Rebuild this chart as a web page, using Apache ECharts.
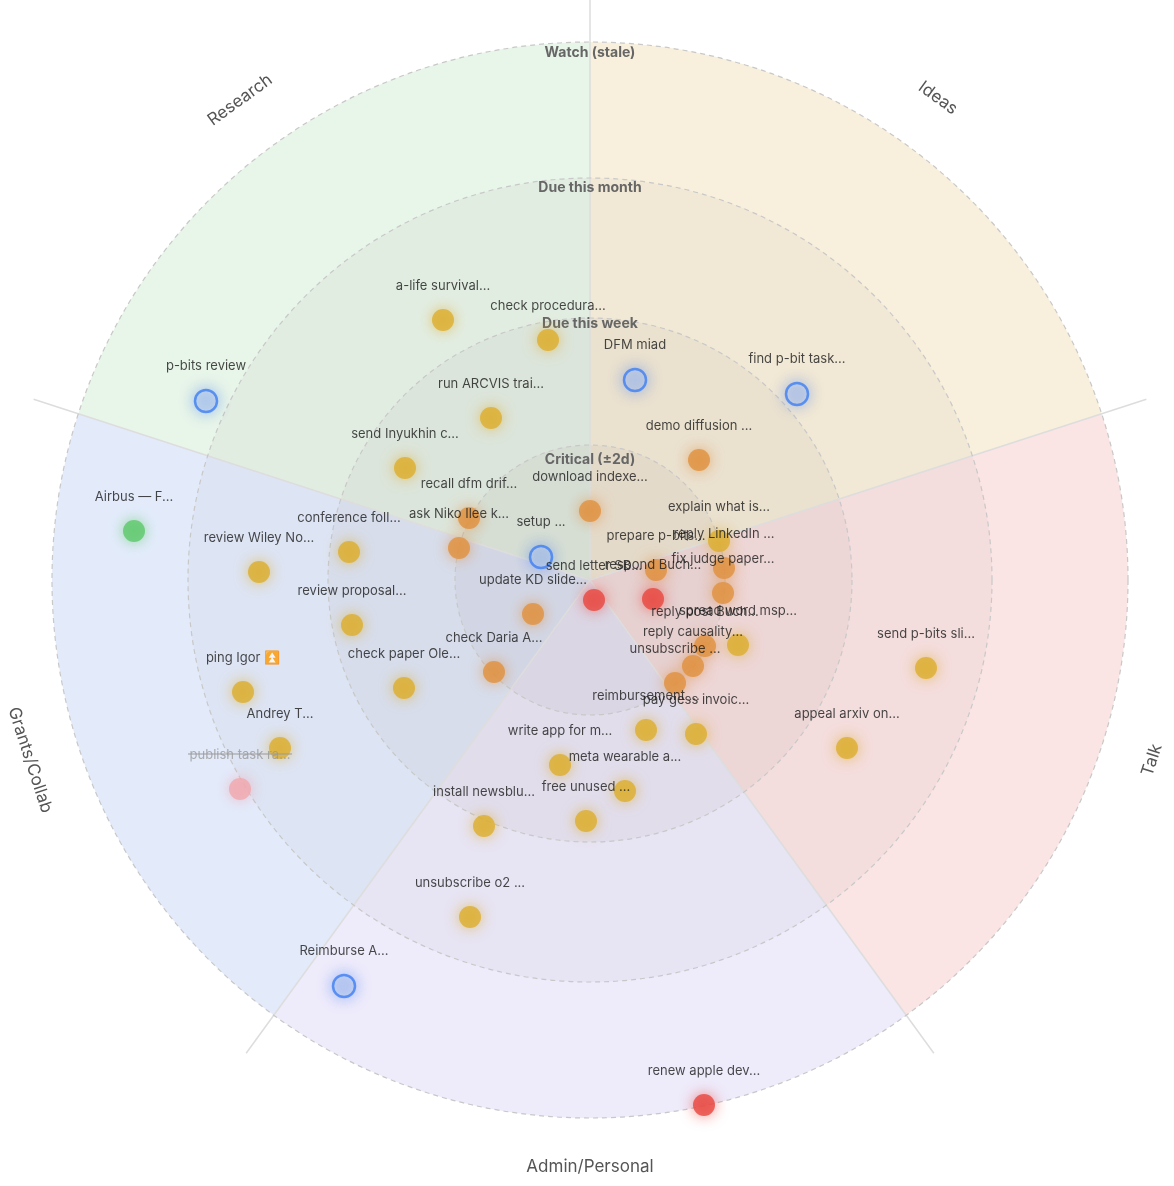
<!DOCTYPE html>
<html><head><meta charset="utf-8">
<script src="https://cdn.jsdelivr.net/npm/echarts@6/dist/echarts.min.js"></script>
<style>html,body{margin:0;padding:0;background:#fff}#c{width:1174px;height:1186px}</style>
</head><body><div id="c"></div>
<script>
// Data: offsets from chart centre (x right, y up)
const sectors = ['Ideas','Talk','Admin/Personal','Grants/Collab','Research'];
const rings = ['Critical (±2d)','Due this week','Due this month','Watch (stale)'];
const ringRadii = [135, 262, 402, 538];

const yellowNames = ['a-life survival...','check procedura...','run ARCVIS trai...','send Inyukhin c...','explain what is...','conference foll...','review Wiley No...','review proposal...','spread word msp...','check paper Ole...','ping Igor ⏫','reimbursement ...','pay gess invoic...','Andrey T...','write app for m...','meta wearable a...','free unused ...','install newsblu...','send p-bits sli...','appeal arxiv on...','unsubscribe o2 ...'];
const yellowPts = [[-147,260],[-42,240],[-99,162],[-185,112],[129,39],[-241,28],[-331,8],[-238,-45],[148,-65],[-186,-108],[-347,-112],[56,-150],[106,-154],[-310,-168],[-30,-185],[35,-211],[-4,-241],[-106,-246],[336,-88],[257,-168],[-120,-337]];
const orangeNames = ['demo diffusion ...','recall dfm drif...','download indexe...','ask Niko Ilee k...','prepare p-bits...','reply LinkedIn ...','fix judge paper...','update KD slide...','reply post Buch...','reply causality...','unsubscribe ...','check Daria A...'];
const orangePts = [[109,120],[-121,62],[0,69],[-131,32],[66,10],[134,12],[133,-13],[-57,-34],[115,-66],[103,-86],[85,-103],[-96,-92]];
const redNames = ['send letter SB...','respond Buch...','renew apple dev...'];
const redPts = [[4,-20],[63,-19],[114,-525]];
const greenNames = ['Airbus — F...'];
const greenPts = [[-456,49]];
const blueNames = ['DFM miad','find p-bit task...','p-bits review','setup ...','Reimburse A...'];
const bluePts = [[45,200],[207,186],[-384,179],[-49,23],[-246,-406]];
const pinkNames = ['publish task ra...'];
const pinkPts = [[-350,-209]];

const sectorColors = ['#f8f0dc','#fbe4e4','#eeebfb','#e3ebfb','#e8f5e9'];

const chart = echarts.init(document.getElementById('c'));
function lab(color){return {show:true, position:'top', distance:16, formatter:'{b}', color:color, fontSize:13, fontFamily:'Inter, sans-serif'};}
function mk(names, pts, color, glow, extra) {
  return Object.assign({
    type:'scatter', symbolSize:22, z:5,
    data: pts.map((p,i)=>({value:p, name:names[i]})),
    itemStyle:{color:color, shadowBlur:14, shadowColor:glow},
    label:lab('#1a1a1a')
  }, extra||{});
}
chart.setOption({
  animation:false,
  grid:{left:0,right:0,top:0,bottom:0},
  xAxis:{type:'value',min:-590,max:584,show:false},
  yAxis:{type:'value',min:-606,max:580,show:false},
  series:[
    mk(yellowNames,yellowPts,'#dcae2e','rgba(220,170,40,0.8)'),
    mk(orangeNames,orangePts,'#e0913e','rgba(224,140,60,0.8)'),
    mk(redNames,redPts,'#e8463f','rgba(232,70,60,0.8)'),
    mk(greenNames,greenPts,'#5cc86a','rgba(90,200,100,0.8)'),
    mk(pinkNames,pinkPts,'#f1a7ae','rgba(240,160,170,0.8)',{label:lab('#999')}),
    mk(blueNames,bluePts,'rgba(190,205,235,0.6)','rgba(60,120,240,0.7)',{itemStyle:{color:'rgba(195,208,235,0.6)',borderColor:'#3d7ef2',borderWidth:2.5,shadowBlur:14,shadowColor:'rgba(60,120,240,0.7)'}})
  ]
});
const c = chart.convertToPixel({gridIndex:0},[0,0]);
const cx=c[0], cy=c[1];
const g=[];
const d2r=Math.PI/180;
sectors.forEach((s,k)=>{
  const a0=(-90+72*k)*d2r, a1=(-18+72*k)*d2r;
  g.push({type:'sector',z:-10,shape:{cx,cy,r:ringRadii[3],r0:0,startAngle:a0,endAngle:a1},style:{fill:sectorColors[k]}});
  const ang=-90+72*k;
  g.push({type:'line',z:-5,shape:{x1:cx,y1:cy,x2:cx+585*Math.cos(ang*d2r),y2:cy+585*Math.sin(ang*d2r)},style:{stroke:'#ddd',lineWidth:1.5}});
});
[402,262,135].forEach(r=>g.push({type:'circle',z:-8,shape:{cx,cy,r},style:{fill:'rgba(110,100,90,0.05)'}}));
ringRadii.forEach(r=>g.push({type:'circle',z:-4,shape:{cx,cy,r},style:{fill:'none',stroke:'#c8c8c8',lineWidth:1.2,lineDash:[5,4]}}));
const ringLabelY=[cy-120,cy-256,cy-392,cy-527];
rings.forEach((t,i)=>g.push({type:'text',z:-3,x:cx,y:ringLabelY[i],style:{text:t,fill:'#666',font:'bold 14px Inter, sans-serif',textAlign:'center',textVerticalAlign:'middle'}}));
// strike-through for the completed task
const sp = chart.convertToPixel({gridIndex:0}, pinkPts[0]);
g.push({type:'line',z:10,shape:{x1:sp[0]-52,y1:sp[1]-35,x2:sp[0]+52,y2:sp[1]-35},style:{stroke:'#999',lineWidth:1}});
const secLab=[[938,98,-36],[1152,760,72],[590,1167,0],[30,760,-72],[240,100,36]];
sectors.forEach((s,k)=>{const p=secLab[k];g.push({type:'text',z:-3,x:p[0],y:p[1],rotation:p[2]*d2r,style:{text:s,fill:'#555',font:'17px Inter, sans-serif',textAlign:'center',textVerticalAlign:'middle'}});});
chart.setOption({graphic:g});
</script></body></html>
